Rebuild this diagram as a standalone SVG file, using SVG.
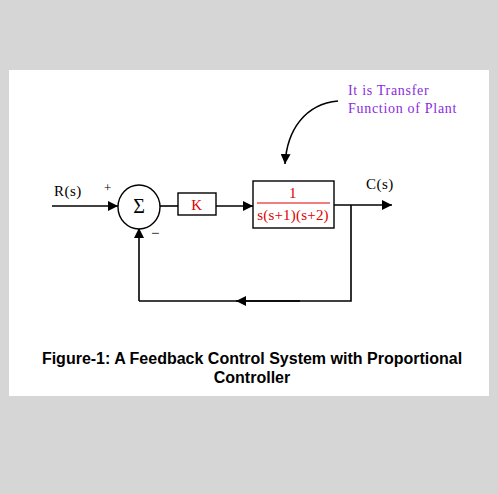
<svg xmlns="http://www.w3.org/2000/svg" width="498" height="494" viewBox="0 0 498 494">
<defs>
<marker id="ah" viewBox="0 0 10 10" refX="10" refY="5" markerWidth="10" markerHeight="10" markerUnits="userSpaceOnUse" orient="auto">
<path d="M0,0 L10,5 L0,10 z" fill="#000"/>
</marker>
</defs>
<style>
.ln{stroke:#000;stroke-width:1.6;fill:none}
.box{stroke:#000;stroke-width:1.4;fill:#fff}
.t{font-family:"Liberation Serif","Times New Roman",serif;font-size:15px;fill:#000;letter-spacing:0.5px}
.r{fill:#e00000}
.p{font-family:"Liberation Serif","Times New Roman",serif;font-size:14px;fill:#8a2be2;letter-spacing:0.7px}
.cap{font-family:"Liberation Sans",Arial,sans-serif;font-size:16px;font-weight:bold;fill:#000;text-anchor:middle}
</style>
<rect x="0" y="0" width="498" height="494" fill="#d6d6d6"/>
<rect x="9" y="70" width="480" height="326" fill="#fff"/>
<g id="connectors">
<line class="ln" x1="52" y1="206" x2="118" y2="206" marker-end="url(#ah)"/>
<line class="ln" x1="160" y1="206" x2="178" y2="206"/>
<line class="ln" x1="216" y1="206" x2="253" y2="206" marker-end="url(#ah)"/>
<line class="ln" x1="334" y1="205" x2="392" y2="205" marker-end="url(#ah)"/>
<polyline class="ln" points="351,205 351,301 139,301"/>
<line class="ln" x1="300" y1="301" x2="236" y2="301" marker-end="url(#ah)"/>
<line class="ln" x1="139" y1="301" x2="139" y2="228" marker-end="url(#ah)"/>
<path class="ln" d="M338,101 C305,104 287,130 285,164" stroke-width="1.1" marker-end="url(#ah)"/>
</g>
<g id="input">
<text class="t" x="54" y="196">R(s)</text>
<text class="t" x="104" y="192" style="font-size:13px">+</text>
</g>
<g id="sum">
<ellipse cx="139" cy="207" rx="21" ry="22" fill="#fff" stroke="#000" stroke-width="1.4"/>
<text class="t" x="139" y="213" text-anchor="middle" style="font-size:20px;letter-spacing:0">Σ</text>
<text class="t" x="151" y="238" style="font-size:15px">−</text>
</g>
<g id="gain">
<rect class="box" x="178" y="193" width="38" height="22"/>
<text class="t r" x="197" y="210" text-anchor="middle">K</text>
</g>
<g id="plant">
<rect class="box" x="253" y="181" width="81" height="47"/>
<text class="t r" x="293" y="198" text-anchor="middle">1</text>
<line x1="257" y1="203" x2="330" y2="203" stroke="#e00000" stroke-width="1"/>
<text class="t r" x="293" y="220" text-anchor="middle" style="letter-spacing:0.2px">s(s+1)(s+2)</text>
</g>
<g id="output">
<text class="t" x="366" y="189">C(s)</text>
</g>
<g id="note">
<text class="p" x="348" y="95">It is Transfer</text>
<text class="p" x="348" y="113">Function of Plant</text>
</g>
<g id="caption">
<text class="cap" x="252" y="364">Figure-1: A Feedback Control System with Proportional</text>
<text class="cap" x="252" y="383">Controller</text>
</g>
</svg>
